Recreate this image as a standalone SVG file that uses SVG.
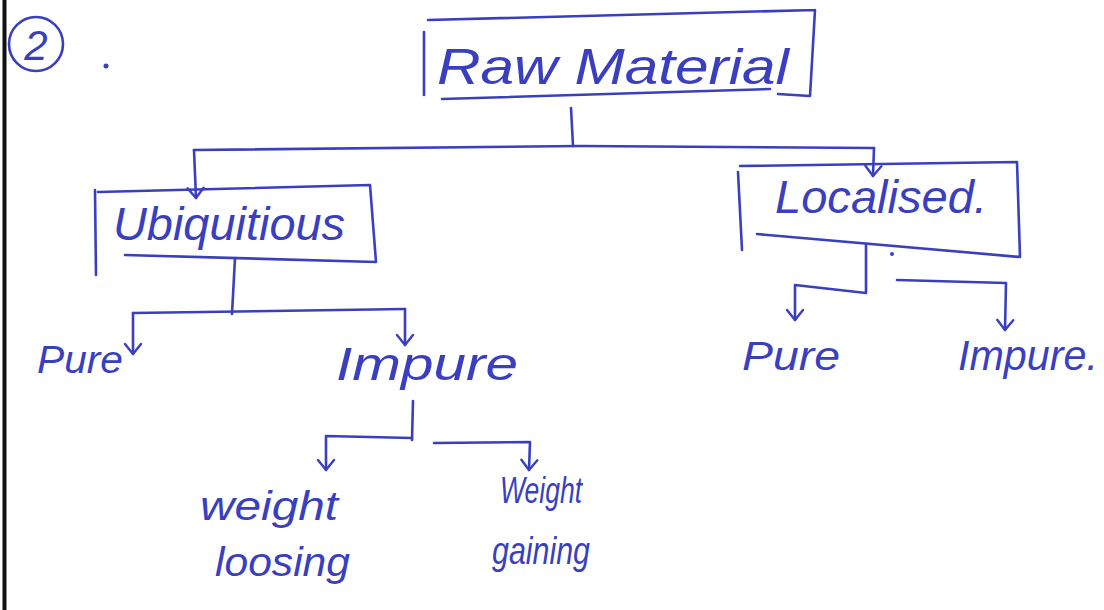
<svg xmlns="http://www.w3.org/2000/svg" width="1104" height="610" viewBox="0 0 1104 610">
<defs>
<style>
.ink{fill:none;stroke:#3a3fbf;stroke-width:2.6;stroke-linecap:round;stroke-linejoin:round}
.t{font-family:"Liberation Sans",Arial,sans-serif;font-style:italic;fill:#3a3fbf}
</style>
<marker id="ah" viewBox="0 0 20 20" refX="18" refY="10" markerWidth="20" markerHeight="20" markerUnits="userSpaceOnUse" orient="auto">
<path d="M8 2 L18 10 L8 18" fill="none" stroke="#3a3fbf" stroke-width="2.4" stroke-linecap="round" stroke-linejoin="round"/>
</marker>
</defs>
<rect width="1104" height="610" fill="#ffffff"/>
<line x1="4.5" y1="0" x2="4.5" y2="610" stroke="#111" stroke-width="4"/>
<g id="label-2">
<circle cx="36" cy="44" r="27" class="ink"/>
<text x="36" y="60" text-anchor="middle" class="t" font-size="42">2</text>
<circle cx="106" cy="66" r="2.5" fill="#3a3fbf"/>
</g>
<g id="raw-material">
<path class="ink" d="M428 20 L815 10 M424 32 L424 95 M815 10 L810 96 L778 94 M442 99 L770 89"/>
<text x="437" y="84" class="t" font-size="50" textLength="352" lengthAdjust="spacingAndGlyphs">Raw Material</text>
</g>
<g id="ubiquitous">
<path class="ink" d="M98 192 L370 185 L376 262 L125 255 M95 190 L96 275"/>
<text x="113" y="240" class="t" font-size="46" textLength="232" lengthAdjust="spacingAndGlyphs">Ubiquitious</text>
</g>
<g id="localised">
<path class="ink" d="M740 166 L1017 162 L1020 257 L757 234 M738 172 L742 250"/>
<text x="775" y="213" class="t" font-size="46" textLength="212" lengthAdjust="spacingAndGlyphs">Localised.</text>
<circle cx="892" cy="254" r="2" fill="#3a3fbf"/>
</g>
<g id="pure-left">
<text x="37" y="373" class="t" font-size="38" textLength="86" lengthAdjust="spacingAndGlyphs">Pure</text>
</g>
<g id="impure-left">
<text x="336" y="380" class="t" font-size="46" textLength="182" lengthAdjust="spacingAndGlyphs">Impure</text>
</g>
<g id="pure-right">
<text x="742" y="370" class="t" font-size="40" textLength="98" lengthAdjust="spacingAndGlyphs">Pure</text>
</g>
<g id="impure-right">
<text x="958" y="370" class="t" font-size="42" textLength="140" lengthAdjust="spacingAndGlyphs">Impure.</text>
</g>
<g id="weight-loosing">
<text x="200" y="520" class="t" font-size="40" textLength="138" lengthAdjust="spacingAndGlyphs">weight</text>
<text x="215" y="576" class="t" font-size="40" textLength="135" lengthAdjust="spacingAndGlyphs">loosing</text>
</g>
<g id="weight-gaining">
<text x="500" y="503" class="t" font-size="36" textLength="82" lengthAdjust="spacingAndGlyphs">Weight</text>
<text x="492" y="564" class="t" font-size="38" textLength="98" lengthAdjust="spacingAndGlyphs">gaining</text>
</g>
<g id="connectors">
<path class="ink" d="M571 108 L573 146"/>
<path class="ink" d="M194 150 L580 146 L874 148" />
<path class="ink" d="M194 150 L196 198" marker-end="url(#ah)"/>
<path class="ink" d="M874 148 L873 176" marker-end="url(#ah)"/>
<path class="ink" d="M235 258 L232 314"/>
<path class="ink" d="M133 313 L405 309"/>
<path class="ink" d="M133 313 L133 354" marker-end="url(#ah)"/>
<path class="ink" d="M405 309 L405 345" marker-end="url(#ah)"/>
<path class="ink" d="M413 401 L412 440"/>
<path class="ink" d="M412 438 L326 436 L326 470" marker-end="url(#ah)"/>
<path class="ink" d="M434 443 L530 442 L529 470" marker-end="url(#ah)"/>
<path class="ink" d="M866 244 L866 293 L795 285 L795 320" marker-end="url(#ah)"/>
<path class="ink" d="M897 280 L1006 283 L1005 330" marker-end="url(#ah)"/>
</g>
</svg>
